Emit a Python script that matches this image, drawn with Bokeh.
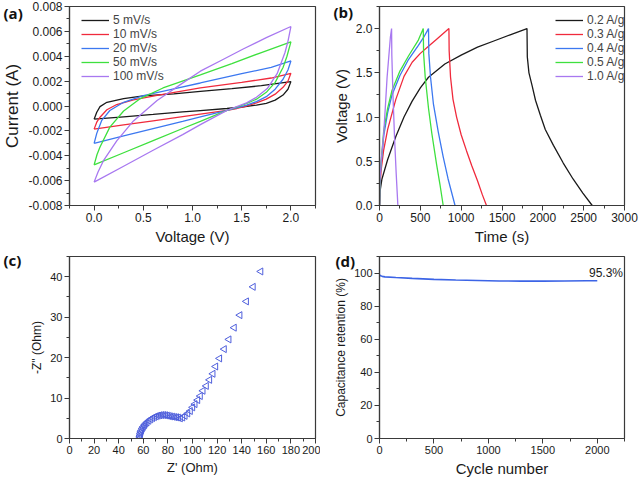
import numpy as np
from bokeh.plotting import figure
from bokeh.models import (Range1d, SingleIntervalTicker, PrintfTickFormatter,
                          Legend, LegendItem, Label)
from bokeh.layouts import gridplot
from bokeh.embed import file_html
from bokeh.resources import INLINE

FONT = "Liberation Sans"

# ---------------- (a) CV curves: voltage (V), current (mA -> A) ----------------
cv_labels = ["5 mV/s", "10 mV/s", "20 mV/s", "50 mV/s", "100 mV/s"]
cv_colors = ["#1a1a1a", "#f02a3c", "#3c78f0", "#3ee03e", "#a878f0"]

cv5_v_up = [0, 0.027, 0.06, 0.13, 0.3, 0.5, 0.81, 1.08, 1.4, 1.7, 2.0]
cv5_i_up = [-1.06, -0.5, -0.05, 0.3, 0.6, 0.82, 0.98, 1.17, 1.4, 1.63, 1.96]
cv5_v_dn = [2.0, 1.97, 1.92, 1.84, 1.75, 1.65, 1.5, 1.35, 1.08, 0.9, 0.6, 0.3, 0.0]
cv5_i_dn = [1.96, 1.35, 0.88, 0.47, 0.22, 0.07, -0.08, -0.2, -0.37, -0.48, -0.68, -0.87, -1.06]

cv10_v_up = [0, 0.027, 0.06, 0.13, 0.23, 0.4, 0.64, 1.08, 1.5, 1.8, 2.0]
cv10_i_up = [-1.86, -1.3, -0.9, -0.3, 0.12, 0.5, 0.85, 1.45, 1.9, 2.25, 2.63]
cv10_v_dn = [2.0, 1.97, 1.92, 1.84, 1.75, 1.65, 1.55, 1.45, 1.35, 1.08, 0.9, 0.6, 0.3, 0.0]
cv10_i_dn = [2.63, 2.0, 1.5, 0.95, 0.55, 0.25, 0.0, -0.2, -0.35, -0.65, -0.85, -1.19, -1.52, -1.86]

cv20_v_up = [0, 0.027, 0.078, 0.16, 0.3, 0.5, 0.81, 1.08, 1.5, 1.8, 2.0]
cv20_i_up = [-3.0, -2.2, -1.15, -0.36, 0.3, 0.84, 1.38, 1.85, 2.6, 3.1, 3.62]
cv20_v_dn = [2.0, 1.97, 1.92, 1.84, 1.75, 1.65, 1.55, 1.45, 1.35, 1.08, 0.9, 0.6, 0.3, 0.0]
cv20_i_dn = [3.62, 2.9, 2.15, 1.35, 0.75, 0.35, 0.07, -0.15, -0.35, -0.88, -1.24, -1.82, -2.41, -3.0]

cv50_v_up = [0, 0.03, 0.06, 0.16, 0.3, 0.47, 0.7, 1.08, 1.4, 1.7, 2.0]
cv50_i_up = [-4.73, -3.9, -3.3, -1.7, -0.4, 0.6, 1.45, 2.5, 3.4, 4.3, 5.15]
cv50_v_dn = [2.0, 1.96, 1.92, 1.84, 1.75, 1.65, 1.55, 1.45, 1.35, 1.08, 0.9, 0.6, 0.3, 0.0]
cv50_i_dn = [5.15, 4.0, 3.1, 1.9, 1.1, 0.55, 0.2, -0.1, -0.35, -1.23, -1.81, -2.79, -3.76, -4.73]

cv100_v_up = [0, 0.04, 0.095, 0.23, 0.4, 0.64, 0.91, 1.08, 1.3, 1.52, 1.75, 2.0]
cv100_i_up = [-6.12, -5.3, -4.4, -2.8, -1.2, 0.44, 1.9, 2.8, 3.7, 4.6, 5.5, 6.39]
cv100_v_dn = [2.0, 1.97, 1.94, 1.86, 1.76, 1.65, 1.55, 1.45, 1.35, 1.08, 0.9, 0.6, 0.3, 0.0]
cv100_i_dn = [6.39, 5.2, 4.3, 2.6, 1.4, 0.7, 0.25, -0.05, -0.35, -1.5, -2.3, -3.56, -4.84, -6.12]

cv_sets = [(cv5_v_up, cv5_i_up, cv5_v_dn, cv5_i_dn),
           (cv10_v_up, cv10_i_up, cv10_v_dn, cv10_i_dn),
           (cv20_v_up, cv20_i_up, cv20_v_dn, cv20_i_dn),
           (cv50_v_up, cv50_i_up, cv50_v_dn, cv50_i_dn),
           (cv100_v_up, cv100_i_up, cv100_v_dn, cv100_i_dn)]

# ---------------- (b) GCD curves: time (s), voltage (V) ----------------
gcd_labels = ["0.2 A/g", "0.3 A/g", "0.4 A/g", "0.5 A/g", "1.0 A/g"]
gcd02_t = [0, 5, 30, 100, 200, 300, 400, 500, 600, 800, 1000, 1200, 1400, 1600, 1806,
           1810, 1830, 1870, 1910, 1970, 2030, 2130, 2250, 2370, 2490, 2605]
gcd02_v = [0.0, 0.15, 0.3, 0.52, 0.78, 1.0, 1.18, 1.33, 1.45, 1.6, 1.7, 1.79, 1.86, 1.93, 2.0,
           1.68, 1.5, 1.35, 1.19, 1.02, 0.86, 0.68, 0.48, 0.3, 0.14, 0.0]
gcd03_t = [0, 5, 20, 50, 100, 200, 300, 400, 500, 600, 700, 850,
           853, 870, 900, 944, 1000, 1065, 1130, 1200, 1260, 1310]
gcd03_v = [0.0, 0.2, 0.4, 0.62, 0.86, 1.2, 1.46, 1.62, 1.72, 1.8, 1.88, 2.0,
           1.75, 1.45, 1.2, 1.0, 0.8, 0.62, 0.45, 0.28, 0.12, 0.0]
gcd04_t = [0, 5, 12, 52, 100, 153, 250, 355, 476, 540, 600,
           604, 625, 660, 720, 780, 840, 925]
gcd04_v = [0.0, 0.25, 0.38, 0.79, 1.05, 1.25, 1.47, 1.65, 1.81, 1.9, 2.0,
           1.72, 1.45, 1.15, 0.83, 0.55, 0.3, 0.0]
gcd05_t = [0, 5, 12, 52, 100, 153, 250, 355, 476, 536,
           540, 560, 600, 640, 700, 740, 780]
gcd05_v = [0.0, 0.27, 0.4, 0.85, 1.1, 1.3, 1.52, 1.69, 1.87, 2.0,
           1.72, 1.45, 1.1, 0.82, 0.46, 0.24, 0.0]
gcd10_t = [0, 3, 20, 52, 93, 133, 148, 151, 165, 185, 205, 225]
gcd10_v = [0.0, 0.25, 0.5, 0.81, 1.45, 1.9, 2.0, 1.7, 1.25, 0.75, 0.35, 0.0]
gcd_sets = [(gcd02_t, gcd02_v), (gcd03_t, gcd03_v), (gcd04_t, gcd04_v),
            (gcd05_t, gcd05_v), (gcd10_t, gcd10_v)]

# ---------------- (c) Nyquist: Z' (Ohm), -Z'' (Ohm) ----------------
nyq_zre = [57.1, 57.2, 57.4, 57.7, 58.0, 58.5, 59.2, 60.0, 61.0, 62.0, 63.0, 64.5, 66.0,
           67.5, 69.0, 70.5, 72.0, 73.5, 75.0, 76.5, 78.0, 79.5, 81.0, 82.5, 84.0, 85.5,
           87.0, 88.5, 90.1, 92.0, 93.9, 96.1, 98.2, 100.1, 102.0, 104.2, 106.3, 108.5,
           111.2, 113.9, 116.6, 118.8, 122.0, 125.8, 129.6, 133.9, 138.5, 143.8, 149.3, 155.5]
nyq_zim = [0.0, 0.4, 0.8, 1.2, 1.6, 2.0, 2.5, 2.9, 3.3, 3.7, 4.0, 4.4, 4.75,
           5.05, 5.3, 5.5, 5.65, 5.75, 5.8, 5.8, 5.75, 5.65, 5.55, 5.45, 5.4, 5.3,
           5.25, 5.15, 5.0, 5.2, 5.6, 6.2, 6.8, 7.7, 8.5, 9.5, 10.5, 11.8,
           13.0, 14.5, 16.0, 17.8, 19.8, 22.1, 24.5, 27.4, 30.5, 33.9, 37.5, 41.3]

# ---------------- (d) cycling stability ----------------
cyc_n = [0, 10, 25, 50, 150, 300, 500, 700, 900, 1100, 1300, 1500, 1700, 1900, 2000]
cyc_ret = [98.9, 98.3, 98.0, 97.7, 97.3, 96.8, 96.2, 95.8, 95.5, 95.2, 95.1, 95.1, 95.2, 95.3, 95.3]
cyc_note = "95.3%"

AX = "#3a3a3a"


def make_fig(w, h, xr, yr, borders):
    l, r, t, b = borders
    p = figure(width=w, height=h, x_range=Range1d(*xr), y_range=Range1d(*yr),
               output_backend="svg", toolbar_location=None,
               min_border_left=l, min_border_right=r, min_border_top=t, min_border_bottom=b)
    p.xgrid.visible = False
    p.ygrid.visible = False
    p.outline_line_color = AX
    p.outline_line_width = 1.2
    p.outline_line_alpha = 1.0
    p.background_fill_color = "white"
    p.border_fill_color = "white"
    return p


def style_axes(p, xlabel, ylabel, xtick, ytick, xfmt, yfmt, tick_fs, xl_fs, yl_fs):
    p.xaxis.ticker = SingleIntervalTicker(interval=xtick, num_minor_ticks=2)
    p.yaxis.ticker = SingleIntervalTicker(interval=ytick, num_minor_ticks=2)
    p.xaxis.formatter = PrintfTickFormatter(format=xfmt)
    p.yaxis.formatter = PrintfTickFormatter(format=yfmt)
    p.xaxis.axis_label = xlabel
    p.yaxis.axis_label = ylabel
    for ax, fs in ((p.xaxis[0], xl_fs), (p.yaxis[0], yl_fs)):
        ax.axis_line_color = AX
        ax.axis_line_width = 1.2
        ax.major_tick_line_color = AX
        ax.minor_tick_line_color = AX
        ax.major_tick_in = 0
        ax.major_tick_out = 5
        ax.minor_tick_in = 0
        ax.minor_tick_out = 3
        ax.major_label_text_font = FONT
        ax.major_label_text_font_size = tick_fs
        ax.major_label_text_color = "#1a1a1a"
        ax.major_label_standoff = 2
        ax.axis_label_text_font = FONT
        ax.axis_label_text_font_style = "normal"
        ax.axis_label_text_font_size = fs
        ax.axis_label_text_color = "#1a1a1a"
        ax.axis_label_standoff = 3


def panel_tag(p, text, offset, standoff):
    # the figure title acts as the panel tag, pulled left of the frame
    t = p.title
    t.text = text
    t.align = "left"
    t.offset = offset
    t.standoff = standoff
    t.vertical_align = "bottom"
    t.text_font = "Open Sans"
    t.text_font_style = "bold"
    t.text_font_size = "15px"
    t.text_color = "#111111"


def make_legend(p, items, x, y, fs):
    lg = Legend(items=items, location=(x, y))
    lg.border_line_color = None
    lg.background_fill_alpha = 0
    lg.label_text_font = FONT
    lg.label_text_font_size = fs
    lg.glyph_width = 28
    lg.glyph_height = 14
    lg.label_height = 14
    lg.spacing = 0
    lg.padding = 0
    lg.margin = 0
    lg.label_standoff = 4
    p.add_layout(lg)


# ---- (a)
pa = make_fig(320, 248, (-0.25, 2.25), (-0.008, 0.008), (68, 5, 6, 43))
items = []
for (vu, iu, vd, idn), lab, col in zip(cv_sets, cv_labels, cv_colors):
    v = list(vu) + list(vd)
    i = [x * 1e-3 for x in list(iu) + list(idn)]
    r = pa.line(v, i, line_color=col, line_width=1.3)
    items.append(LegendItem(label=lab, renderers=[r]))
style_axes(pa, "Voltage (V)", "Current (A)", 0.5, 0.002, "%.1f", "%.3f", "12px", "15px", "17px")
make_legend(pa, items, 12, 122, "12px")
panel_tag(pa, "(a)", -66, -33)

# ---- (b)
pb = make_fig(321, 248, (0, 3000), (0, 2.25), (59, 14, 6, 43))
items = []
for (t, v), lab, col in zip(gcd_sets, gcd_labels, cv_colors):
    r = pb.line(t, v, line_color=col, line_width=1.3)
    items.append(LegendItem(label=lab, renderers=[r]))
style_axes(pb, "Time (s)", "Voltage (V)", 500, 0.5, "%d", "%.1f", "12px", "15px", "15px")
make_legend(pb, items, 176, 122, "12px")
panel_tag(pb, "(b)", -46, -31)

# ---- (c)
pc = make_fig(320, 231, (0, 200), (0, 45), (68, 5, 8, 40))
pc.scatter(nyq_zre, nyq_zim, marker="triangle", angle=np.pi / 2, size=7,
           fill_color=None, line_color="#4f5fdc", line_width=1.0)
style_axes(pc, "Z' (Ohm)", '-Z" (Ohm)', 20, 10, "%d", "%d", "11px", "13px", "12px")
panel_tag(pc, "(c)", -66, -26)

# ---- (d)
pd = make_fig(321, 231, (0, 2250), (0, 110), (59, 17, 8, 38))
pd.line(cyc_n, cyc_ret, line_color="#3c64e6", line_width=1.6)
pd.add_layout(Label(x=2080, y=100, text=cyc_note, text_align="center",
                    text_baseline="middle", text_font=FONT, text_font_size="12px",
                    text_color="#1a1a1a"))
style_axes(pd, "Cycle number", "Capacitance retention (%)", 500, 20, "%d", "%d", "11px", "15px", "12px")
panel_tag(pd, "(d)", -44, -28)

grid = gridplot([[pa, pb], [pc, pd]], toolbar_location=None)

open("out.html", "w").write(file_html(grid, INLINE))
